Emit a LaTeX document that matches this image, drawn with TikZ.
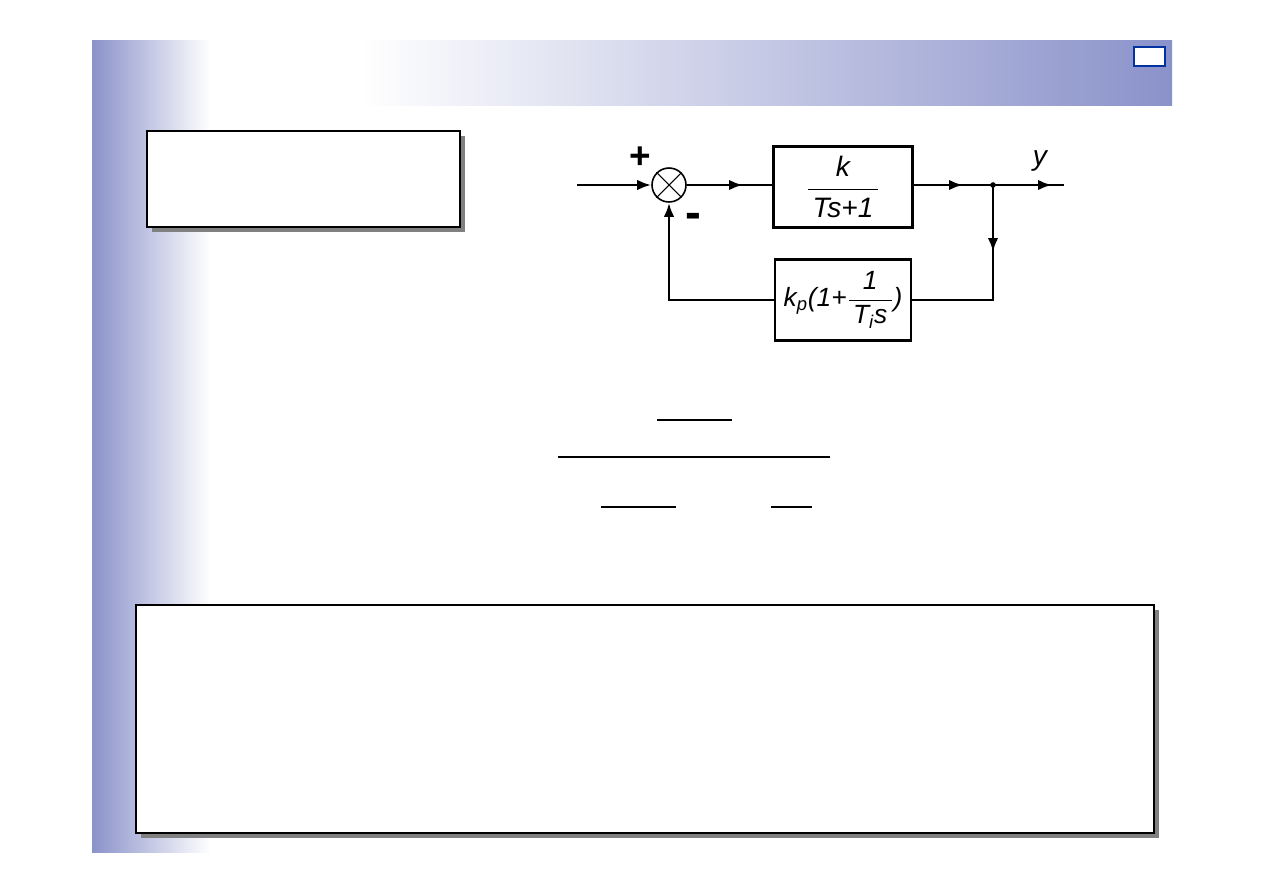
\documentclass[tikz,border=0pt]{standalone}
\usepackage{fontspec}
\setmainfont{Liberation Sans}
\usepackage{amsmath}
\usetikzlibrary{arrows.meta, calc}
\definecolor{slideblue}{RGB}{138,146,202}
\definecolor{frameblue}{RGB}{0,51,160}

\begin{document}
\begin{tikzpicture}[x=0.02cm, y=-0.02cm, >={Latex[length=2.8mm, width=2.1mm]}, line width=1.5pt,
  blk/.style={draw, line width=1.5pt, minimum width=2.78cm, minimum height=1.62cm, inner sep=1pt,
    font=\fontsize{16}{18}\selectfont\itshape},
  sumnode/.style={draw, circle, line width=0.9pt, minimum size=0.68cm, inner sep=0pt},
  sign/.style={font=\fontsize{21}{23}\selectfont\bfseries, inner sep=0pt}]
  \useasboundingbox (0,0) rectangle (1263,893);
  % fondo de la diapositiva
  \shade[left color=slideblue, right color=white] (92,40) rectangle (210,852);
  \shade[left color=white, right color=slideblue] (360,40) rectangle (1172,105);
  \draw[frameblue, fill=white, line width=1.6pt] (1134,47) rectangle (1165,66);
  % recuadros con sombra
  \fill[black!50] (152,136) rectangle (465,232);
  \draw[fill=white] (147,131) rectangle (460,227);
  \fill[black!50] (141,610) rectangle (1159,838);
  \draw[fill=white] (136,605) rectangle (1154,833);
  % bloques
  \node[sumnode] (sum) at (669,185) {};
  \draw[line width=0.6pt] (sum.north west) -- (sum.south east) (sum.north east) -- (sum.south west);
  \node[blk] (g1) at (843,187) {$\dfrac{\textit{k}}{\,\textit{Ts+1}\,}$};
  \node[blk, minimum width=2.72cm, font=\fontsize{15}{17}\selectfont\itshape] (g2) at (843,300)
    {\textit{k}$_{\textit{p}}$\textit{(1+}$\dfrac{\textit{1}}{\,\textit{T}_{\textit{i}}\textit{s}\,}$\textit{)}};
  % puntos de paso
  \coordinate (in) at (577,185);
  \coordinate (m1) at (743,185);
  \coordinate (m2) at (963,185);
  \coordinate (br) at (993,185);
  \coordinate (m3) at (1052,185);
  \coordinate (out) at (1064,185);
  \coordinate (m4) at (993,252);
  \coordinate (fb) at (993,300);
  \coordinate (fl) at (669,300);
  % lazo directo
  \draw[->] (in) -- (sum.west);
  \draw (sum.east) -- (g1.west |- m1);
  \draw[->] (sum.east) -- (m1);
  \draw (g1.east |- m2) -- (out);
  \draw[->] (g1.east |- m2) -- (m2);
  \draw[->] (br) -- (m3);
  \fill (br) circle (1.6pt);
  % realimentacion
  \draw (br) -- (fb) -- (g2.east |- fb);
  \draw[->] (br) -- (m4);
  \draw[->] (g2.west |- fb) -- (fl) -- (sum.south);
  % signos y salida
  \node[sign] (plus) at (640,158) {+};
  \node[sign, font=\fontsize{27}{29}\selectfont\bfseries] (minus) at (693,221) {-};
  \node[font=\fontsize{16}{18}\selectfont\itshape] (ylab) at (1040,161) {y};
  % rayas de fraccion de la ecuacion
  \draw[line width=0.7pt] (657,420) -- (732,420);
  \draw[line width=1.3pt] (558,457) -- (830,457);
  \draw[line width=0.7pt] (601,507) -- (676,507) (771,507) -- (812,507);
\end{tikzpicture}
\end{document}
